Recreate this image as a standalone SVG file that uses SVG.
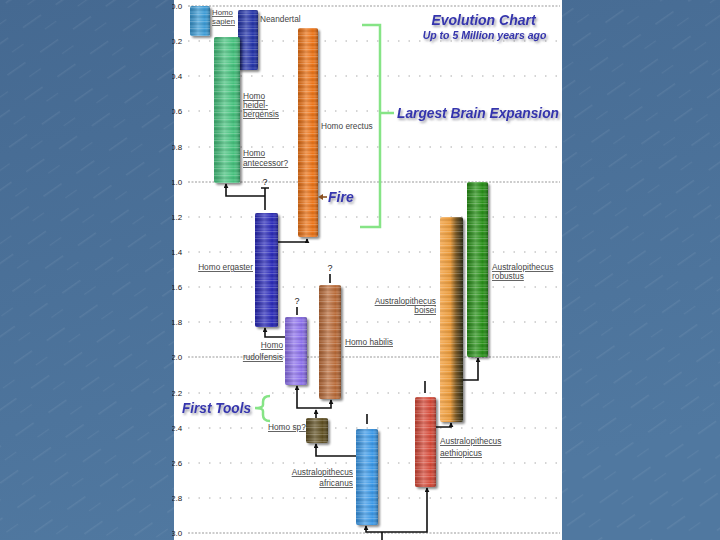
<svg xmlns="http://www.w3.org/2000/svg" width="720" height="540" viewBox="0 0 720 540">
<defs>
<linearGradient id="bgg" x1="0" y1="0" x2="0.3" y2="1"><stop offset="0" stop-color="#456991"/><stop offset="1" stop-color="#5078a0"/></linearGradient>
<pattern id="streak" width="40" height="30" patternUnits="userSpaceOnUse" patternTransform="rotate(-35)"><rect width="40" height="30" fill="none"/><rect x="3" y="5" width="22" height="1.5" fill="#fff" opacity="0.07"/><rect x="20" y="19" width="14" height="1.2" fill="#fff" opacity="0.06"/></pattern>
<pattern id="stripes" width="10" height="7" patternUnits="userSpaceOnUse"><rect y="0" width="10" height="1" fill="#fff" opacity="0.2"/><rect y="2.5" width="10" height="1" fill="#000" opacity="0.12"/><rect y="4.5" width="10" height="1.2" fill="#fff" opacity="0.12"/></pattern>
<linearGradient id="cyl" x1="0" y1="0" x2="1" y2="0"><stop offset="0" stop-color="#000" stop-opacity="0.15"/><stop offset="0.4" stop-color="#fff" stop-opacity="0.25"/><stop offset="0.75" stop-color="#fff" stop-opacity="0"/><stop offset="1" stop-color="#000" stop-opacity="0.3"/></linearGradient>
<linearGradient id="gBoisei" x1="0" y1="0" x2="1" y2="0"><stop offset="0" stop-color="#f4b060"/><stop offset="0.45" stop-color="#e89a3c"/><stop offset="0.7" stop-color="#7a5a28"/><stop offset="1" stop-color="#2a2a18"/></linearGradient>
<filter id="sh" x="-30%" y="-10%" width="160%" height="130%"><feDropShadow dx="2" dy="2" stdDeviation="1.2" flood-color="#000" flood-opacity="0.45"/></filter>
<filter id="tsh" x="-10%" y="-30%" width="120%" height="170%"><feDropShadow dx="1.5" dy="2" stdDeviation="1.3" flood-color="#556" flood-opacity="0.55"/></filter>
<clipPath id="panel"><rect x="172" y="0" width="390" height="540"/></clipPath>
<marker id="tip" viewBox="0 0 6 6" refX="5" refY="3" markerWidth="5" markerHeight="5" markerUnits="userSpaceOnUse" orient="auto-start-reverse"><path d="M0,0 L6,3 L0,6 z" fill="#111"/></marker>
</defs>
<style>
.ax{font-family:"Liberation Sans",Arial,sans-serif;font-size:8px;fill:#222}
.lb{font-family:"Liberation Sans",Arial,sans-serif;font-size:8.3px;fill:#444;text-decoration:underline}
.pl{font-family:"Liberation Sans",Arial,sans-serif;font-size:8.3px;fill:#444}
.q{font-family:"Liberation Sans",Arial,sans-serif;font-size:9px;fill:#222}
.big{font-family:"Liberation Sans",Arial,sans-serif;font-weight:bold;font-style:italic;font-size:14px;fill:#3535ad;filter:url(#tsh)}
.grid{stroke:#aaa;stroke-width:1;stroke-dasharray:1.5 9}
.gridd{stroke:#999;stroke-width:1;stroke-dasharray:2 1.5}
.con{stroke:#111;stroke-width:1.6;fill:none}
.brk{stroke:#86e486;stroke-width:2.5;fill:none}
.ov1{fill:url(#cyl)}
.ov2{fill:url(#stripes)}
</style>
<rect width="720" height="540" fill="url(#bgg)"/>
<rect width="720" height="540" fill="url(#streak)"/>
<rect x="174" y="0" width="388" height="540" fill="#fff"/>
<g id="axis" clip-path="url(#panel)">
<text class="ax" x="171" y="9">0.0</text>
<text class="ax" x="171" y="44">0.2</text>
<text class="ax" x="171" y="79">0.4</text>
<text class="ax" x="171" y="114">0.6</text>
<text class="ax" x="171" y="150">0.8</text>
<text class="ax" x="171" y="185">1.0</text>
<text class="ax" x="171" y="220">1.2</text>
<text class="ax" x="171" y="255">1.4</text>
<text class="ax" x="171" y="290">1.6</text>
<text class="ax" x="171" y="325">1.8</text>
<text class="ax" x="171" y="360">2.0</text>
<text class="ax" x="171" y="396">2.2</text>
<text class="ax" x="171" y="431">2.4</text>
<text class="ax" x="171" y="466">2.6</text>
<text class="ax" x="171" y="501">2.8</text>
<text class="ax" x="171" y="536">3.0</text>
</g>
<g id="grid">
<line class="gridd" x1="188" y1="6" x2="560" y2="6"/>
<line class="grid" x1="188" y1="41" x2="560" y2="41"/>
<line class="grid" x1="188" y1="76" x2="560" y2="76"/>
<line class="grid" x1="188" y1="111" x2="560" y2="111"/>
<line class="grid" x1="188" y1="147" x2="560" y2="147"/>
<line class="gridd" x1="188" y1="182" x2="560" y2="182"/>
<line class="grid" x1="188" y1="217" x2="560" y2="217"/>
<line class="grid" x1="188" y1="252" x2="560" y2="252"/>
<line class="grid" x1="188" y1="287" x2="560" y2="287"/>
<line class="grid" x1="188" y1="322" x2="560" y2="322"/>
<line class="gridd" x1="188" y1="357" x2="560" y2="357"/>
<line class="grid" x1="188" y1="393" x2="560" y2="393"/>
<line class="grid" x1="188" y1="428" x2="560" y2="428"/>
<line class="grid" x1="188" y1="463" x2="560" y2="463"/>
<line class="grid" x1="188" y1="498" x2="560" y2="498"/>
<line class="gridd" x1="188" y1="533" x2="560" y2="533"/>
</g>
<g id="connectors">
<path class="con" d="M226,184 V196 H265" marker-start="url(#tip)"/>
<path class="con" d="M265,188 V210 M261,188 H269"/>
<path class="con" d="M278,242 H307 V239" marker-end="url(#tip)"/>
<path class="con" d="M265,328 V337 H285" marker-start="url(#tip)"/>
<path class="con" d="M297,386 V408 H331 V400" marker-start="url(#tip)" marker-end="url(#tip)"/>
<path class="con" d="M316,418 V410" marker-end="url(#tip)"/>
<path class="con" d="M316,444 V456 H356" marker-start="url(#tip)"/>
<path class="con" d="M366,526 V532 H427 V488" marker-start="url(#tip)" marker-end="url(#tip)"/>
<path class="con" d="M382,532 V540"/>
<path class="con" d="M436,427 H451 V423" marker-end="url(#tip)"/>
<path class="con" d="M478,358 V380 H463" marker-start="url(#tip)"/>
<path class="con" d="M297,307 V315 M330,274 V283 M367,414 V424 M425,381 V393"/>
</g>
<g id="homo-sapiens">
<rect x="190" y="6" width="20" height="30" rx="2" fill="#3a9ad4" filter="url(#sh)"/>
<rect class="ov1" x="190" y="6" width="20" height="30" rx="2"/><rect class="ov2" x="190" y="6" width="20" height="30"/>
<text class="lb" x="212" y="15" style="font-size:7.8px">Homo</text><text class="lb" x="212" y="24" style="font-size:7.8px">sapien</text>
</g>
<g id="neandertal">
<rect x="238" y="10" width="20" height="60" rx="2" fill="#2232a8" filter="url(#sh)"/>
<rect class="ov1" x="238" y="10" width="20" height="60" rx="2"/><rect class="ov2" x="238" y="10" width="20" height="60"/>
<text class="pl" x="260" y="22">Neandertal</text>
</g>
<g id="homo-heidelbergensis">
<rect x="214" y="37" width="26" height="146" rx="2" fill="#44c07c" filter="url(#sh)"/>
<rect class="ov1" x="214" y="37" width="26" height="146" rx="2"/><rect class="ov2" x="214" y="37" width="26" height="146"/>
<text class="lb" x="243" y="99">Homo</text><text class="lb" x="243" y="108">heidel-</text><text class="lb" x="243" y="117">bergensis</text>
<text class="lb" x="243" y="156">Homo</text><text class="lb" x="243" y="166">antecessor?</text>
</g>
<g id="homo-erectus">
<rect x="298" y="28" width="20" height="209" rx="2" fill="#ea7216" filter="url(#sh)"/>
<rect class="ov1" x="298" y="28" width="20" height="209" rx="2"/><rect class="ov2" x="298" y="28" width="20" height="209"/>
<text class="pl" x="321" y="129">Homo erectus</text>
</g>
<g id="homo-ergaster">
<rect x="255" y="213" width="23" height="114" rx="2" fill="#2a2ab8" filter="url(#sh)"/>
<rect class="ov1" x="255" y="213" width="23" height="114" rx="2"/><rect class="ov2" x="255" y="213" width="23" height="114"/>
<text class="lb" x="253" y="270" text-anchor="end">Homo ergaster</text>
<text class="q" x="265" y="185" text-anchor="middle">?</text>
</g>
<g id="homo-rudolfensis">
<rect x="285" y="317" width="22" height="68" rx="2" fill="#8c70ea" filter="url(#sh)"/>
<rect class="ov1" x="285" y="317" width="22" height="68" rx="2"/><rect class="ov2" x="285" y="317" width="22" height="68"/>
<text class="lb" x="283" y="348" text-anchor="end">Homo</text><text class="lb" x="283" y="360" text-anchor="end">rudolfensis</text>
<text class="q" x="297" y="304" text-anchor="middle">?</text>
</g>
<g id="homo-habilis">
<rect x="319" y="285" width="22" height="114" rx="2" fill="#b86a38" filter="url(#sh)"/>
<rect class="ov1" x="319" y="285" width="22" height="114" rx="2"/><rect class="ov2" x="319" y="285" width="22" height="114"/>
<text class="lb" x="345" y="345">Homo habilis</text>
<text class="q" x="330" y="271" text-anchor="middle">?</text>
</g>
<g id="homo-sp">
<text class="lb" x="268" y="430">Homo sp?</text>
<rect x="306" y="418" width="22" height="25" rx="2" fill="#5e5024" filter="url(#sh)"/>
<rect class="ov1" x="306" y="418" width="22" height="25" rx="2"/><rect class="ov2" x="306" y="418" width="22" height="25"/>
</g>
<g id="australopithecus-africanus">
<rect x="356" y="429" width="22" height="96" rx="2" fill="#3a98e6" filter="url(#sh)"/>
<rect class="ov1" x="356" y="429" width="22" height="96" rx="2"/><rect class="ov2" x="356" y="429" width="22" height="96"/>
<text class="lb" x="353" y="475" text-anchor="end">Australopithecus</text><text class="lb" x="353" y="486" text-anchor="end">africanus</text>
</g>
<g id="australopithecus-aethiopicus">
<rect x="415" y="397" width="21" height="90" rx="2" fill="#d44a38" filter="url(#sh)"/>
<rect class="ov1" x="415" y="397" width="21" height="90" rx="2"/><rect class="ov2" x="415" y="397" width="21" height="90"/>
<text class="lb" x="440" y="444">Australopithecus</text><text class="lb" x="440" y="456">aethiopicus</text>
</g>
<g id="australopithecus-boisei">
<rect x="440" y="217" width="23" height="205" rx="2" fill="url(#gBoisei)" filter="url(#sh)"/>
<rect class="ov2" x="440" y="217" width="23" height="205"/>
<text class="lb" x="436" y="304" text-anchor="end">Australopithecus</text><text class="lb" x="436" y="313" text-anchor="end">boisei</text>
</g>
<g id="australopithecus-robustus">
<rect x="467" y="182" width="21" height="175" rx="2" fill="#268e14" filter="url(#sh)"/>
<rect class="ov1" x="467" y="182" width="21" height="175" rx="2"/><rect class="ov2" x="467" y="182" width="21" height="175"/>
<text class="lb" x="492" y="270">Australopithecus</text><text class="lb" x="492" y="279">robustus</text>
</g>
<g id="annotations">
<text class="big" x="483.5" y="25" text-anchor="middle">Evolution Chart</text>
<text class="big" x="484.5" y="39" text-anchor="middle" style="font-size:10.5px">Up to 5 Million years ago</text>
<path class="brk" d="M362,25 H380 V227 H360 M380,113 H394"/>
<text class="big" x="397" y="118" textLength="162" lengthAdjust="spacingAndGlyphs">Largest Brain Expansion</text>
<path d="M327,197 H320" stroke="#8a5020" stroke-width="1.6"/>
<path d="M318,197 L323,194 L323,200 z" fill="#8a5020"/>
<text class="big" x="328" y="202">Fire</text>
<path class="brk" d="M270,396 Q263,396 263,402 V405 Q263,408 255,408 Q263,408 263,411 V415 Q263,421 270,421"/>
<text class="big" x="182" y="413" textLength="69" lengthAdjust="spacingAndGlyphs">First Tools</text>
</g>
</svg>
